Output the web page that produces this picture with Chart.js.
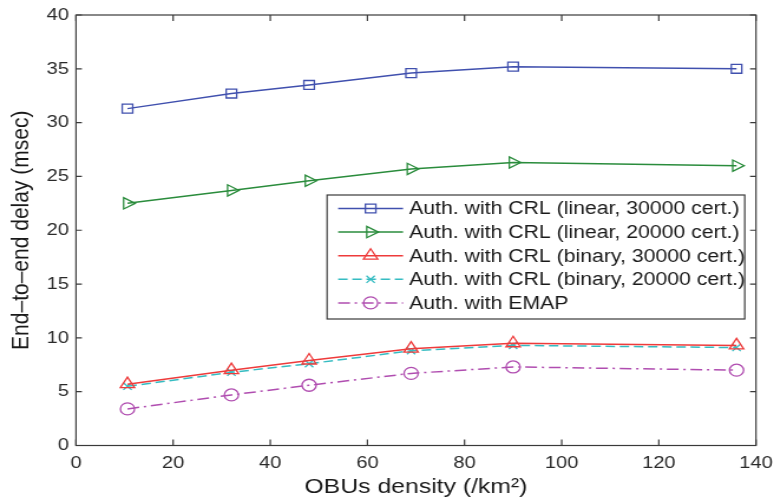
<!DOCTYPE html>
<html>
<head>
<meta charset="utf-8">
<script src="https://cdn.jsdelivr.net/npm/chart.js@4.4.1/dist/chart.umd.min.js"></script>
<style>
  html, body { margin: 0; padding: 0; background: #fff; overflow: hidden; }
  /* the original figure is a bit wider than tall, so stretch the canvas horizontally */
  #wrap { width: 656px; height: 503px; transform: scaleX(1.1799); transform-origin: 0 0; }
</style>
</head>
<body>
<div id="wrap"><canvas id="chart" width="656" height="503"></canvas></div>
<script>
const density = [10.6, 32, 48, 69, 90, 136];
const crlLinear30k = [31.3, 32.7, 33.5, 34.6, 35.2, 35.0];
const crlLinear20k = [22.5, 23.7, 24.6, 25.7, 26.3, 26.0];
const crlBinary30k = [5.7, 7.0, 7.9, 9.0, 9.5, 9.3];
const crlBinary20k = [5.5, 6.8, 7.6, 8.8, 9.3, 9.1];
const emap = [3.4, 4.7, 5.6, 6.7, 7.3, 7.0];
const seriesLabels = [
    'Auth. with CRL (linear, 30000 cert.)',
    'Auth. with CRL (linear, 20000 cert.)',
    'Auth. with CRL (binary, 30000 cert.)',
    'Auth. with CRL (binary, 20000 cert.)',
    'Auth. with EMAP'
];
const xTicks = [0, 20, 40, 60, 80, 100, 120, 140];
const yTicks = [0, 5, 10, 15, 20, 25, 30, 35, 40];

const FONT = "'Liberation Sans', Arial, Helvetica, sans-serif";
const pts = arr => density.map((d, i) => ({ x: d, y: arr[i] }));

const series = (label, arr, color, style, extra) => ({
    label,
    data: pts(arr),
    borderColor: color,
    borderWidth: 1.5,
    pointStyle: style,
    pointRadius: 6,
    pointBorderColor: color,
    pointBackgroundColor: 'rgba(0,0,0,0)',
    pointBorderWidth: 1.3,
    tension: 0,
    ...extra
});

// box, inward ticks and the legend, drawn MATLAB style
const frameAndLegend = {
    id: 'frameAndLegend',
    afterDraw(chart) {
        const { ctx, chartArea: a, scales: { x, y } } = chart;
        ctx.save();
        ctx.strokeStyle = '#3a3a3a';
        ctx.lineWidth = 1.2;
        ctx.setLineDash([]);
        ctx.strokeRect(a.left, a.top, a.right - a.left, a.bottom - a.top);
        ctx.beginPath();
        x.ticks.forEach(t => {
            const px = x.getPixelForValue(t.value);
            ctx.moveTo(px, a.bottom); ctx.lineTo(px, a.bottom - 6);
            ctx.moveTo(px, a.top); ctx.lineTo(px, a.top + 6);
        });
        y.ticks.forEach(t => {
            const py = y.getPixelForValue(t.value);
            ctx.moveTo(a.left, py); ctx.lineTo(a.left + 5, py);
            ctx.moveTo(a.right, py); ctx.lineTo(a.right - 5, py);
        });
        ctx.stroke();

        // legend box
        const bw = 354, bh = 124;
        const bl = a.right - 9.5 - bw, bt = a.top + 180;
        ctx.fillStyle = '#fff';
        ctx.fillRect(bl, bt, bw, bh);
        ctx.strokeRect(bl, bt, bw, bh);
        ctx.font = '18px ' + FONT;
        ctx.textBaseline = 'middle';
        chart.data.datasets.forEach((ds, i) => {
            const cy = bt + 13.5 + i * 23.6;
            const x0 = bl + 9.4, x1 = bl + 64.4, cx = (x0 + x1) / 2;
            ctx.strokeStyle = ds.borderColor;
            ctx.lineWidth = ds.borderWidth;
            ctx.setLineDash(ds.borderDash || []);
            ctx.beginPath(); ctx.moveTo(x0, cy); ctx.lineTo(x1, cy); ctx.stroke();
            ctx.setLineDash([]);
            ctx.fillStyle = 'rgba(0,0,0,0)';
            ctx.lineWidth = ds.pointBorderWidth;
            Chart.helpers.drawPoint(ctx, {
                pointStyle: ds.pointStyle,
                radius: ds.pointRadius,
                rotation: ds.pointRotation || 0,
                borderWidth: ds.pointBorderWidth
            }, cx, cy);
            ctx.fillStyle = '#1a1a1a';
            ctx.fillText(ds.label, bl + 69.5, cy + 1);
        });
        ctx.restore();
    }
};

new Chart(document.getElementById('chart'), {
    type: 'scatter',
    data: {
        datasets: [
            series(seriesLabels[0], crlLinear30k, '#4050ae', 'rect', { pointRadius: 6.3 }),
            series(seriesLabels[1], crlLinear20k, '#2a8c3c', 'triangle', { pointRotation: 90, pointRadius: 6.5 }),
            series(seriesLabels[2], crlBinary30k, '#ee3b3b', 'triangle', { pointRadius: 7 }),
            series(seriesLabels[3], crlBinary20k, '#35bcc2', 'crossRot', { pointRadius: 5, borderDash: [8, 4] }),
            series(seriesLabels[4], emap, '#b04db0', 'circle', { borderDash: [10, 4, 2, 4] })
        ]
    },
    options: {
        responsive: false,
        animation: false,
        showLine: true,
        layout: { padding: { top: 15, right: 15.3, left: 0, bottom: 0 } },
        plugins: { legend: { display: false }, tooltip: { enabled: false } },
        scales: {
            x: {
                type: 'linear', min: 0, max: 140,
                afterBuildTicks: s => { s.ticks = xTicks.map(v => ({ value: v })); },
                afterFit: s => { s.height = 57.5; s.paddingLeft = 0; s.paddingRight = 0; },
                grid: { display: false, drawTicks: false },
                border: { display: false },
                ticks: { color: '#2a2a2a', font: { family: FONT, size: 17 }, padding: 8, maxRotation: 0 },
                title: { display: true, text: 'OBUs density (/km²)', color: '#1a1a1a', font: { family: FONT, size: 21 }, padding: { top: 0, bottom: 3 } }
            },
            y: {
                type: 'linear', min: 0, max: 40,
                afterBuildTicks: s => { s.ticks = yTicks.map(v => ({ value: v })); },
                afterFit: s => { s.width = 64.4; s.paddingTop = 0; s.paddingBottom = 0; },
                grid: { display: false, drawTicks: false },
                border: { display: false },
                ticks: { color: '#2a2a2a', font: { family: FONT, size: 17 }, padding: 6 },
                title: { display: true, text: 'End–to–end delay (msec)', color: '#1a1a1a', font: { family: FONT, size: 21 }, padding: { top: 6, bottom: 0 } }
            }
        }
    },
    plugins: [frameAndLegend]
});
</script>
</body>
</html>
